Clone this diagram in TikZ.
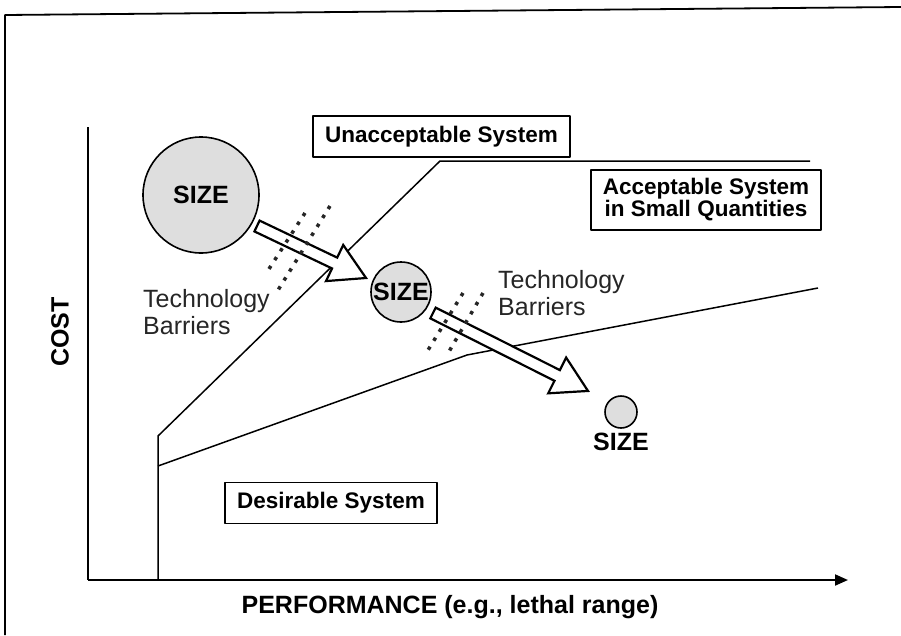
\documentclass[tikz,border=0pt]{standalone}
\usepackage{fontspec}
\setmainfont{Liberation Sans}
\usetikzlibrary{arrows.meta}
\begin{document}
\begin{tikzpicture}[x=1pt,y=-1pt,line join=round]
\tikzset{
 frameline/.style={line width=1.8pt},
 axisline/.style={line width=2pt},
 boundary/.style={line width=1.5pt},
 labelbox/.style={draw, line width=1.6pt, fill=white, inner xsep=12pt, inner ysep=0pt, minimum height=41pt, font=\fontsize{22.5}{23}\selectfont\bfseries},
 sizecircle/.style={circle, draw, line width=1.6pt, fill=black!13, inner sep=0pt, font=\fontsize{25}{25}\selectfont\bfseries},
 sizelabel/.style={font=\fontsize{25}{25}\selectfont\bfseries, inner sep=0pt},
 barrier/.style={line width=3.5pt, dash pattern=on 3.5pt off 7pt, black!85},
 techlabel/.style={font=\fontsize{25}{27}\selectfont, align=left, inner sep=0pt, anchor=north west, text=black!85},
 hollowarrow/.style={draw, line width=2.2pt, fill=white, line join=miter},
 axislabel/.style={font=\fontsize{25}{25}\selectfont\bfseries, inner sep=0pt},
}
\useasboundingbox (0,0) rectangle (901,635);
% frame
\draw[frameline] (5,635) -- (5,15) -- (901,7);
% axes
\coordinate (O) at (88,580);
\coordinate (ytop) at (88,127);
\coordinate (xend) at (848,580);
\draw[axisline] (ytop) -- (O);
\draw[axisline,-{Triangle[length=13pt,width=11pt]}] (O) -- (xend);
% boundaries
\coordinate (b0) at (158,580);
\coordinate (u1) at (158,436);
\coordinate (u2) at (440,161);
\coordinate (u3) at (810,161);
\coordinate (l1) at (158,466);
\coordinate (l2) at (467,355);
\coordinate (l3) at (818,288);
\draw[boundary] (b0) -- (u1) -- (u2) -- (u3);
\draw[boundary] (l1) -- (l2) -- (l3);
% region labels
\node[labelbox] (unacc) at (441.5,136.5) {Unacceptable System};
\node[labelbox, align=center, font=\fontsize{22.5}{22}\selectfont\bfseries, minimum height=60pt] (acc) at (706,200) {Acceptable System\\in Small Quantities};
\node[labelbox] (des) at (331,503) {Desirable System};
% circles
\node[sizecircle, minimum size=116pt] (c1) at (201,195) {SIZE};
\node[sizecircle, minimum size=60pt] (c2) at (401,292) {SIZE};
\node[sizecircle, minimum size=32pt] (c3) at (621,412) {};
\node[sizelabel] (s3) at (621,442) {SIZE};
% hollow arrows
\coordinate (a1s) at (257,226);
\coordinate (a2s) at (433,313);
\draw[hollowarrow, shift={(a1s)}, rotate=-25.5] (0,-6) -- (86,-6) -- (86,-20) -- (120.8,0) -- (86,20) -- (86,6) -- (0,6) -- cycle;
\draw[hollowarrow, shift={(a2s)}, rotate=-26.7] (0,-6) -- (139,-6) -- (139,-20) -- (173.5,0) -- (139,20) -- (139,6) -- (0,6) -- cycle;
% technology barriers
\draw[barrier] (330,206) -- (275,295);
\draw[barrier] (305,213) -- (267,272);
\draw[barrier] (483,293) -- (447,355);
\draw[barrier] (463,293) -- (425,355);
\node[techlabel] (t1) at (143,289) {Technology\\Barriers};
\node[techlabel] (t2) at (498,270) {Technology\\Barriers};
% axis labels
\node[axislabel, rotate=90] (cost) at (60,332) {COST};
\node[axislabel] (perf) at (450,607) {PERFORMANCE (e.g., lethal range)};
\end{tikzpicture}
\end{document}
